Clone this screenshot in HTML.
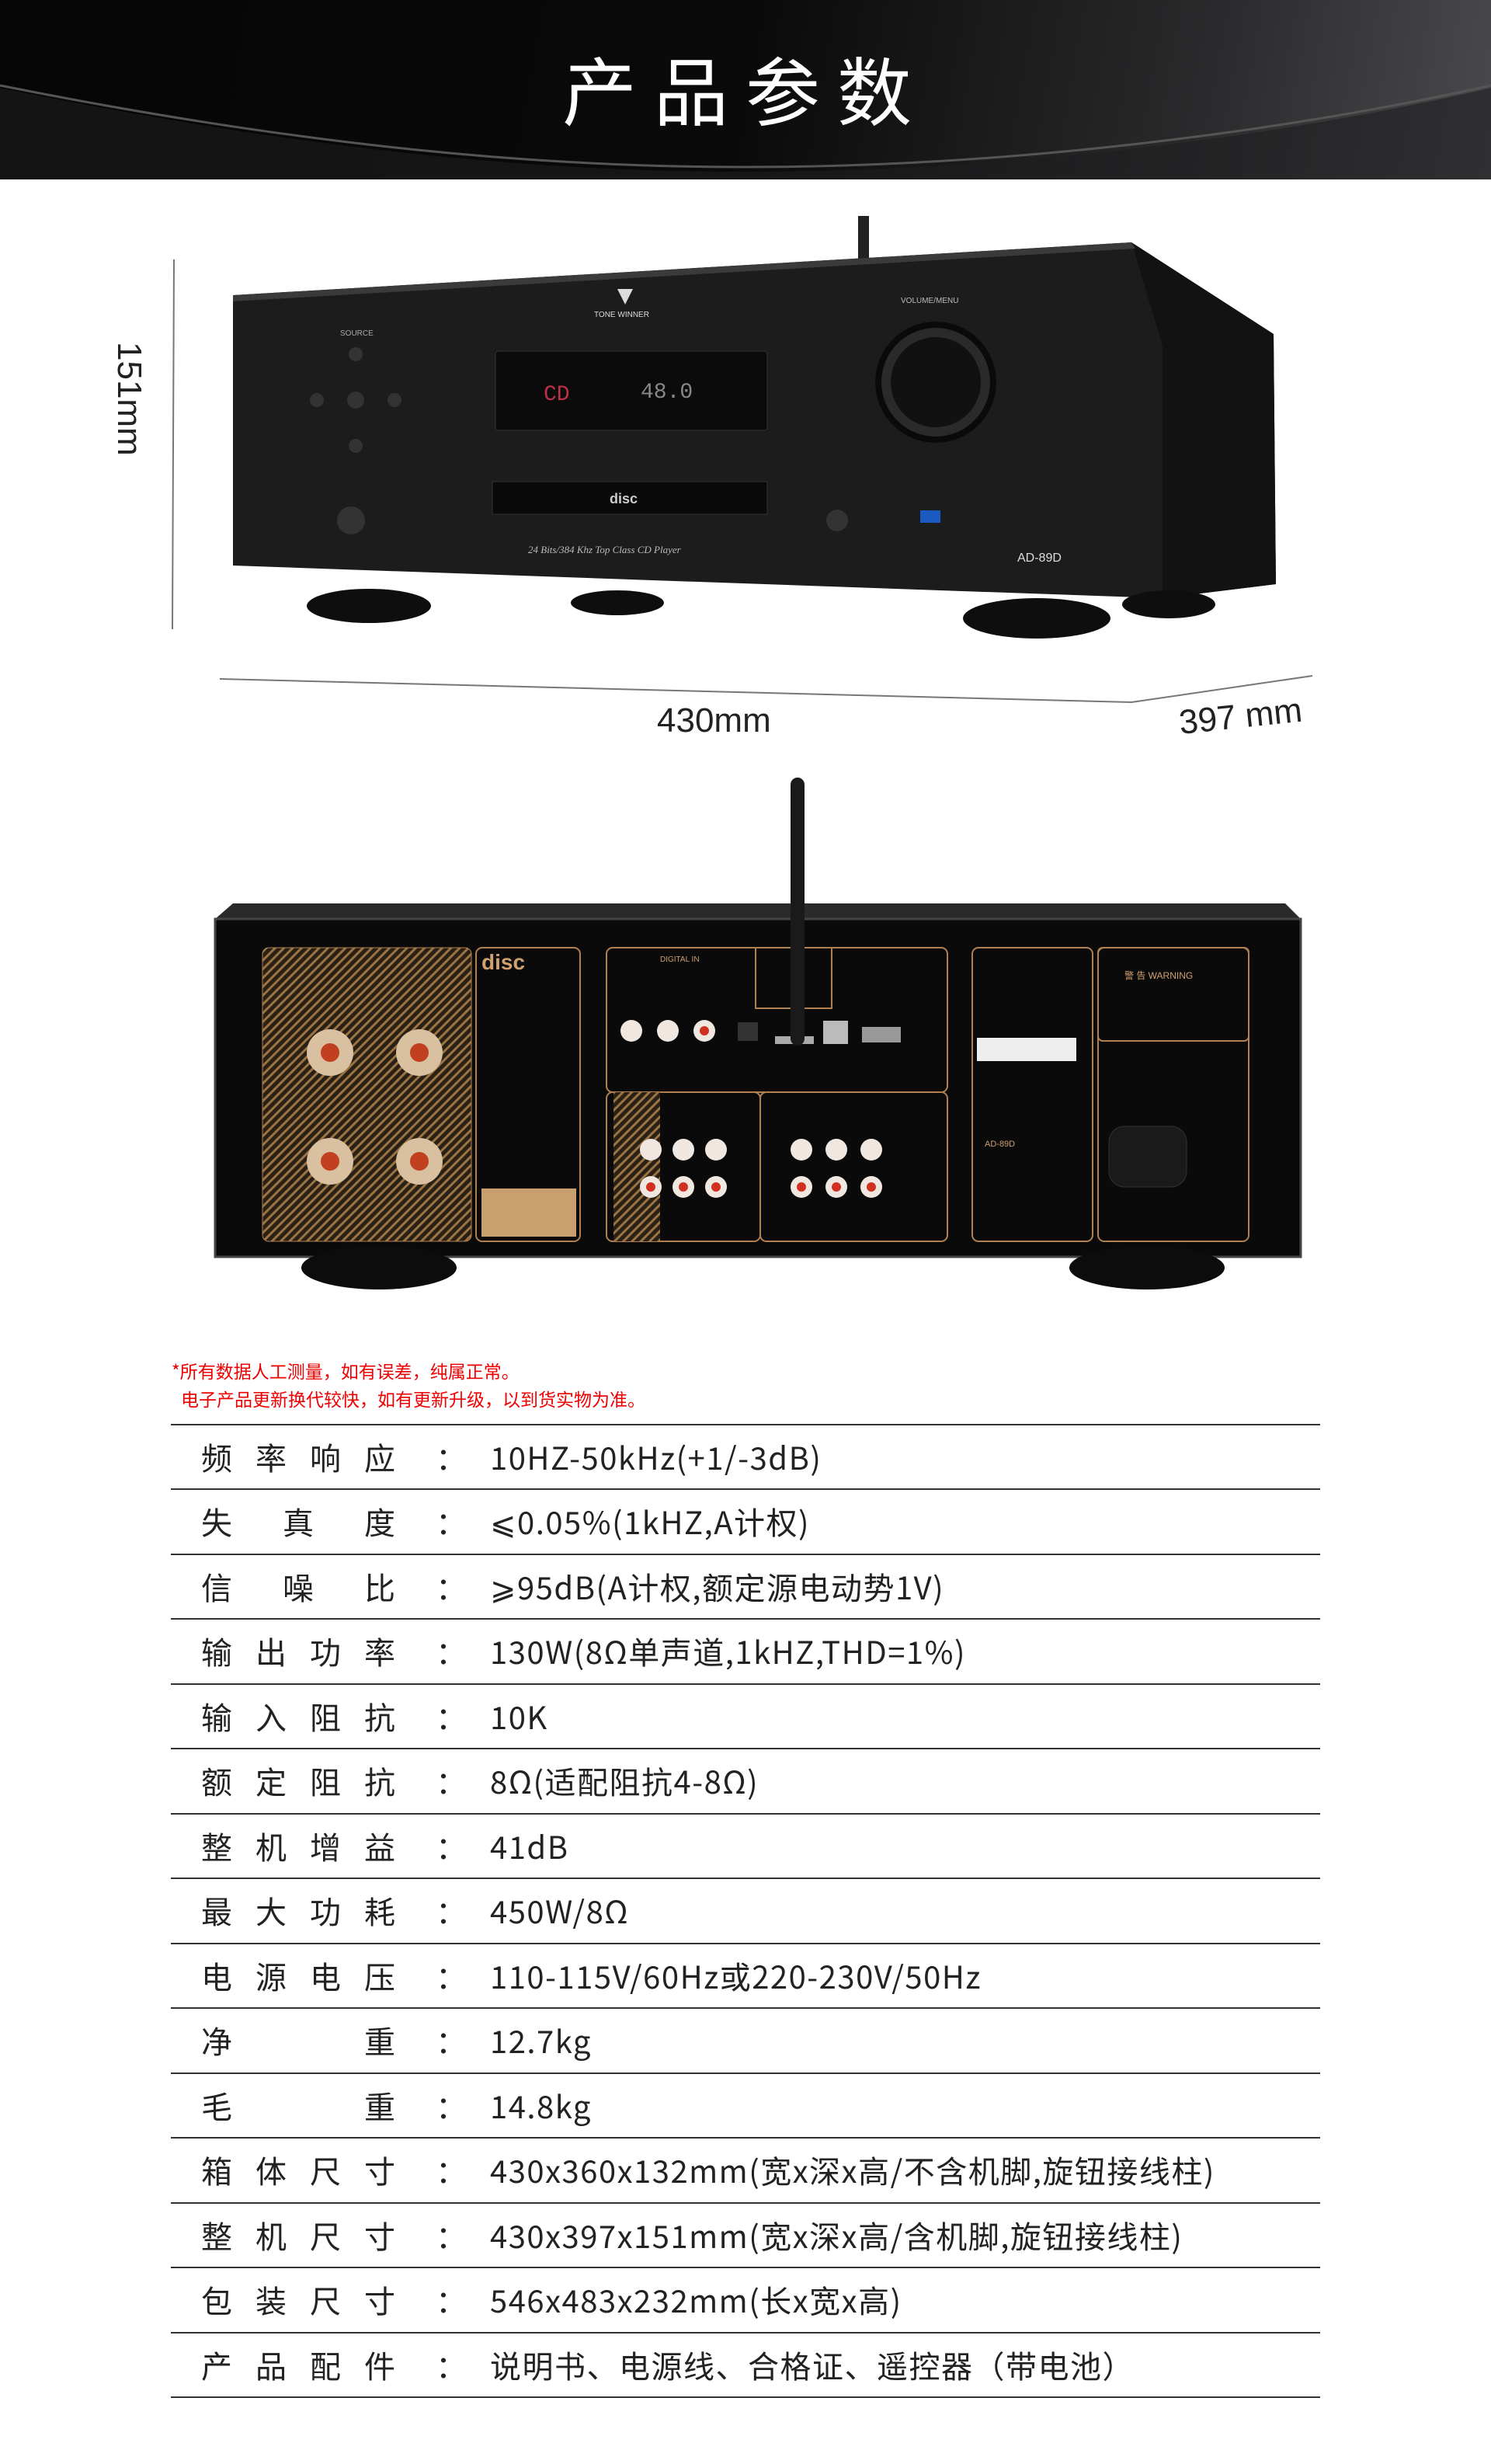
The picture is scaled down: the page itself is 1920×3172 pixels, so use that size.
<!DOCTYPE html>
<html><head><meta charset="utf-8"><style>
*{margin:0;padding:0;box-sizing:border-box}
body{width:1920px;height:3172px;background:#fff;position:relative;overflow:hidden;font-family:"Liberation Sans","Noto Sans CJK SC",sans-serif}
.abs{position:absolute}
#hdr{left:0;top:0;width:1920px;height:231px;background:linear-gradient(100deg,#050505 0%,#0a0a0a 50%,#2a2a2c 80%,#4a4a4e 100%);overflow:hidden}
#title{left:0;width:1920px;top:48px;text-align:center;color:#fff;font-size:96px;letter-spacing:22px;font-family:"Noto Sans CJK SC",sans-serif;line-height:130px}
.note{color:#e00;font-size:23px;font-family:"Noto Sans CJK SC",sans-serif;line-height:30px}
.line{left:220px;width:1480px;height:2px;background:#333}
.row{left:259px;height:83px;line-height:83px;font-size:40px;color:#222;font-family:"Noto Sans CJK SC",sans-serif;white-space:nowrap}
.lab{display:inline-block;width:250px;text-align:justify;text-align-last:justify}
.col{position:absolute;left:302px;top:0}
.val{position:absolute;left:372px;top:0;letter-spacing:1.5px}
</style></head><body>
<div id="hdr" class="abs">
<svg width="1920" height="231" style="position:absolute;left:0;top:0"><path d="M0,110 C400,190 700,215 960,215 C1300,215 1650,170 1920,110" stroke="#555" stroke-width="3" fill="none"/><path d="M0,113 C400,195 700,221 960,221 C1300,221 1650,176 1920,113 L1920,231 L0,231 Z" fill="#1e1e20" opacity="0.6"/></svg>
</div>
<div id="title" class="abs">产品参数</div>

<svg class="abs" style="left:0;top:240px" width="1920" height="760" viewBox="0 240 1920 760">
<rect x="1105" y="278" width="14" height="60" fill="#222"/>
<polygon points="300,380 1457,312 1640,430 1643,752 1497,770 300,728" fill="#1c1c1c"/>
<polygon points="1457,312 1640,430 1643,752 1497,770 1497,445" fill="#121212"/>
<polygon points="300,380 1457,312 1462,320 300,388" fill="#3a3a3a"/>
<rect x="638" y="452" width="350" height="102" rx="4" fill="#0b0b0b" stroke="#333"/>
<text x="700" y="515" fill="#c0304a" font-size="28" font-family="Liberation Mono">CD</text>
<text x="825" y="512" fill="#888" font-size="28" font-family="Liberation Mono">48.0</text>
<rect x="634" y="620" width="354" height="42" fill="#0a0a0a" stroke="#333"/>
<text x="785" y="648" fill="#ccc" font-size="18" font-family="Liberation Sans" font-weight="bold">disc</text>
<text x="680" y="712" fill="#bbb" font-size="13" font-style="italic" font-family="Liberation Serif">24 Bits/384 Khz Top Class CD Player</text>
<circle cx="1205" cy="492" r="78" fill="#0a0a0a"/><circle cx="1205" cy="492" r="70" fill="#2a2a2a"/><circle cx="1205" cy="492" r="58" fill="#111"/>
<text x="1160" y="390" fill="#bbb" font-size="10">VOLUME/MENU</text>
<text x="765" y="408" fill="#ddd" font-size="10">TONE WINNER</text>
<polygon points="795,372 815,372 805,392" fill="#ddd"/>
<text x="438" y="432" fill="#aaa" font-size="10">SOURCE</text>
<circle cx="458" cy="456" r="9" fill="#333"/><circle cx="458" cy="515" r="11" fill="#333"/><circle cx="408" cy="515" r="9" fill="#333"/><circle cx="508" cy="515" r="9" fill="#333"/><circle cx="458" cy="574" r="9" fill="#333"/>
<circle cx="452" cy="670" r="18" fill="#333"/><circle cx="1078" cy="670" r="14" fill="#333"/>
<rect x="1185" y="657" width="26" height="16" fill="#1b5ac0"/>
<text x="1310" y="723" fill="#ddd" font-size="16">AD-89D</text>
<ellipse cx="475" cy="780" rx="80" ry="22" fill="#0e0e0e"/><ellipse cx="795" cy="776" rx="60" ry="16" fill="#0e0e0e"/><ellipse cx="1335" cy="796" rx="95" ry="26" fill="#0e0e0e"/><ellipse cx="1505" cy="778" rx="60" ry="18" fill="#0e0e0e"/>
<line x1="224" y1="334" x2="222" y2="810" stroke="#777" stroke-width="2"/>
<line x1="283" y1="874" x2="1457" y2="904" stroke="#777" stroke-width="2"/>
<line x1="1457" y1="904" x2="1690" y2="870" stroke="#777" stroke-width="2"/>
<text x="846" y="942" fill="#222" font-size="44" font-family="Liberation Sans">430mm</text>
<text x="1520" y="945" fill="#222" font-size="44" font-family="Liberation Sans" transform="rotate(-6 1520 945)">397 mm</text>
<text x="0" y="0" fill="#222" font-size="44" font-family="Liberation Sans" transform="translate(152,440) rotate(90)">151mm</text>
</svg>

<svg class="abs" style="left:0;top:990px" width="1920" height="700" viewBox="0 990 1920 700">
<defs><pattern id="hatch" width="8" height="8" patternUnits="userSpaceOnUse" patternTransform="rotate(45)"><rect width="8" height="8" fill="#2b2014"/><rect width="3" height="8" fill="#9a7444"/></pattern></defs>
<polygon points="300,1163 1655,1163 1675,1183 277,1183" fill="#2a2a2a"/>
<rect x="277" y="1183" width="1398" height="435" fill="#0a0a0a" stroke="#444" stroke-width="3"/>
<ellipse cx="488" cy="1632" rx="100" ry="28" fill="#0c0c0c"/><ellipse cx="1477" cy="1632" rx="100" ry="28" fill="#0c0c0c"/>
<rect x="338" y="1220" width="269" height="378" rx="8" fill="url(#hatch)" stroke="#b08050"/>
<g fill="#d8c0a0"><circle cx="425" cy="1355" r="30"/><circle cx="540" cy="1355" r="30"/><circle cx="425" cy="1495" r="30"/><circle cx="540" cy="1495" r="30"/></g>
<g fill="#c04020"><circle cx="425" cy="1355" r="12"/><circle cx="540" cy="1355" r="12"/><circle cx="425" cy="1495" r="12"/><circle cx="540" cy="1495" r="12"/></g>
<g fill="none" stroke="#b08050" stroke-width="2">
<rect x="613" y="1220" width="134" height="378" rx="8"/>
<rect x="781" y="1220" width="439" height="186" rx="8"/>
<rect x="781" y="1406" width="198" height="192" rx="8"/>
<rect x="979" y="1406" width="241" height="192" rx="8"/>
<rect x="1252" y="1220" width="155" height="378" rx="8"/>
<rect x="1414" y="1220" width="194" height="378" rx="8"/>
<rect x="1414" y="1220" width="194" height="120" rx="6"/>
<rect x="973" y="1220" width="98" height="78"/>
</g>
<rect x="790" y="1406" width="60" height="192" fill="url(#hatch)"/>
<rect x="620" y="1530" width="122" height="62" fill="#c8a070"/>
<text x="620" y="1248" fill="#d0a070" font-size="28" font-weight="bold">disc</text>
<text x="850" y="1238" fill="#d0a070" font-size="10">DIGITAL IN</text>
<g fill="#f0e8e0"><circle cx="813" cy="1327" r="14"/><circle cx="860" cy="1327" r="14"/><circle cx="907" cy="1327" r="14"/>
<circle cx="838" cy="1480" r="14"/><circle cx="838" cy="1528" r="14"/><circle cx="880" cy="1480" r="14"/><circle cx="880" cy="1528" r="14"/><circle cx="922" cy="1480" r="14"/><circle cx="922" cy="1528" r="14"/>
<circle cx="1032" cy="1480" r="14"/><circle cx="1077" cy="1480" r="14"/><circle cx="1122" cy="1480" r="14"/><circle cx="1032" cy="1528" r="14"/><circle cx="1077" cy="1528" r="14"/><circle cx="1122" cy="1528" r="14"/></g>
<g fill="#d03020"><circle cx="907" cy="1327" r="6"/><circle cx="838" cy="1528" r="6"/><circle cx="880" cy="1528" r="6"/><circle cx="922" cy="1528" r="6"/><circle cx="1032" cy="1528" r="6"/><circle cx="1077" cy="1528" r="6"/><circle cx="1122" cy="1528" r="6"/></g>
<rect x="950" y="1316" width="26" height="24" fill="#333"/><rect x="998" y="1334" width="50" height="10" fill="#aaa"/><rect x="1060" y="1314" width="32" height="30" fill="#bbb"/><rect x="1110" y="1322" width="50" height="20" fill="#999"/>
<rect x="1258" y="1336" width="128" height="30" fill="#eee"/>
<rect x="1428" y="1450" width="100" height="78" rx="20" fill="#1a1a1a" stroke="#333"/>
<rect x="1018" y="1001" width="18" height="345" rx="9" fill="#1a1a1a"/>
<text x="1448" y="1260" fill="#d0a070" font-size="12">警 告 WARNING</text>
<text x="1268" y="1476" fill="#d0a070" font-size="11">AD-89D</text>
</svg>

<div class="abs note" style="left:221px;top:1749px">*所有数据人工测量，如有误差，纯属正常。</div>
<div class="abs note" style="left:233px;top:1785px">电子产品更新换代较快，如有更新升级，以到货实物为准。</div>

<div class="abs line" style="top:1833px"></div>
<div class="abs line" style="top:1916px"></div>
<div class="abs line" style="top:2000px"></div>
<div class="abs line" style="top:2083px"></div>
<div class="abs line" style="top:2167px"></div>
<div class="abs line" style="top:2250px"></div>
<div class="abs line" style="top:2334px"></div>
<div class="abs line" style="top:2417px"></div>
<div class="abs line" style="top:2501px"></div>
<div class="abs line" style="top:2584px"></div>
<div class="abs line" style="top:2668px"></div>
<div class="abs line" style="top:2751px"></div>
<div class="abs line" style="top:2835px"></div>
<div class="abs line" style="top:2918px"></div>
<div class="abs line" style="top:3002px"></div>
<div class="abs line" style="top:3085px"></div>

<div class="abs row" style="top:1834px"><span class="lab">频率响应</span><span class="col">：</span><span class="val">10HZ-50kHz(+1/-3dB)</span></div>
<div class="abs row" style="top:1917px"><span class="lab">失真度</span><span class="col">：</span><span class="val">⩽0.05%(1kHZ,A计权)</span></div>
<div class="abs row" style="top:2001px"><span class="lab">信噪比</span><span class="col">：</span><span class="val">⩾95dB(A计权,额定源电动势1V)</span></div>
<div class="abs row" style="top:2084px"><span class="lab">输出功率</span><span class="col">：</span><span class="val">130W(8Ω单声道,1kHZ,THD=1%)</span></div>
<div class="abs row" style="top:2168px"><span class="lab">输入阻抗</span><span class="col">：</span><span class="val">10K</span></div>
<div class="abs row" style="top:2251px"><span class="lab">额定阻抗</span><span class="col">：</span><span class="val">8Ω(适配阻抗4-8Ω)</span></div>
<div class="abs row" style="top:2335px"><span class="lab">整机增益</span><span class="col">：</span><span class="val">41dB</span></div>
<div class="abs row" style="top:2418px"><span class="lab">最大功耗</span><span class="col">：</span><span class="val">450W/8Ω</span></div>
<div class="abs row" style="top:2502px"><span class="lab">电源电压</span><span class="col">：</span><span class="val">110-115V/60Hz或220-230V/50Hz</span></div>
<div class="abs row" style="top:2585px"><span class="lab">净重</span><span class="col">：</span><span class="val">12.7kg</span></div>
<div class="abs row" style="top:2669px"><span class="lab">毛重</span><span class="col">：</span><span class="val">14.8kg</span></div>
<div class="abs row" style="top:2752px"><span class="lab">箱体尺寸</span><span class="col">：</span><span class="val">430x360x132mm(宽x深x高/不含机脚,旋钮接线柱)</span></div>
<div class="abs row" style="top:2836px"><span class="lab">整机尺寸</span><span class="col">：</span><span class="val">430x397x151mm(宽x深x高/含机脚,旋钮接线柱)</span></div>
<div class="abs row" style="top:2919px"><span class="lab">包装尺寸</span><span class="col">：</span><span class="val">546x483x232mm(长x宽x高)</span></div>
<div class="abs row" style="top:3003px"><span class="lab">产品配件</span><span class="col">：</span><span class="val">说明书、电源线、合格证、遥控器（带电池）</span></div>
</body></html>
